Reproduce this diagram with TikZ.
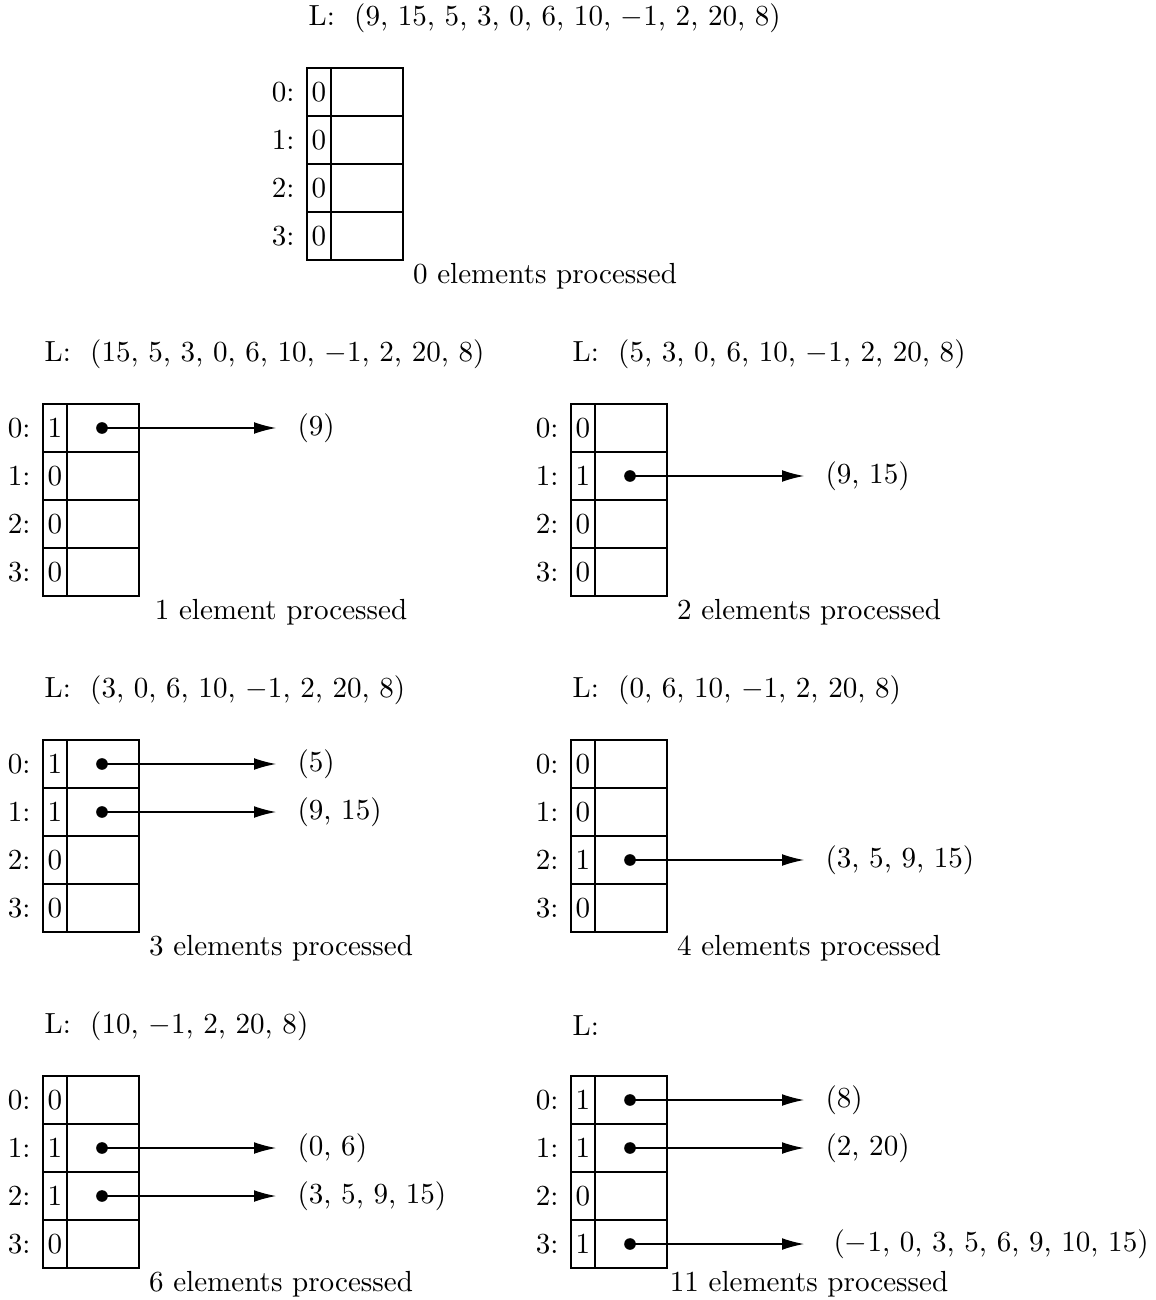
\documentclass[tikz,border=0pt]{standalone}
\usetikzlibrary{arrows.meta}
\newcommand\bucket[8]{%
\begin{scope}[shift={#2}]
\node[ltext] (#1L) at (1,-50) {L:\hspace{6.67pt}#7};
\node[cnum] (#1n0) at (0,0) {#3};
\node[cptr] (#1p0) at (24,0) {};
\node[cnum] (#1n1) at (0,48) {#4};
\node[cptr] (#1p1) at (24,48) {};
\node[cnum] (#1n2) at (0,96) {#5};
\node[cptr] (#1p2) at (24,96) {};
\node[cnum] (#1n3) at (0,144) {#6};
\node[cptr] (#1p3) at (24,144) {};
\node[idx] (#1i0) at (-12,24) {0:};
\node[idx] (#1i1) at (-12,72) {1:};
\node[idx] (#1i2) at (-12,120) {2:};
\node[idx] (#1i3) at (-12,168) {3:};
\node[proc] (#1P) at (238,208) {#8};
\end{scope}}
\newcommand\ptr[5]{%
\begin{scope}[shift={#2}]
\node[dotnode] (#1d#3) at (59,24+48*#3) {};
\coordinate (#1t#3) at (233,24+48*#3);
\node[ptxt] (#1s#3) at (#5,24+48*#3) {#4};
\draw[arr] (#1d#3.center) -- (#1t#3);
\end{scope}}
\begin{document}
\begin{tikzpicture}[x=0.012083cm,y=-0.012083cm,
  cnum/.style={draw, minimum width=24*0.012083cm, minimum height=48*0.012083cm, inner sep=0pt, outer sep=0pt, anchor=north west},
  cptr/.style={draw, minimum width=72*0.012083cm, minimum height=48*0.012083cm, inner sep=0pt, outer sep=0pt, anchor=north west},
  idx/.style={anchor=east, inner sep=0pt},
  ltext/.style={anchor=west, inner sep=0pt},
  proc/.style={inner sep=0pt},
  ptxt/.style={anchor=west, inner sep=0pt},
  dotnode/.style={circle, fill, inner sep=0pt, minimum size=4pt},
  arr/.style={-{Latex[length=7.5pt,width=4pt]}, line width=0.4pt}]
\useasboundingbox (0,0) rectangle (1155,1300);
\bucket{A}{(307,68)}{0}{0}{0}{0}{(9, 15, 5, 3, 0, 6, 10, $-1$, 2, 20, 8)}{0 elements processed}
\bucket{B}{(43,404)}{1}{0}{0}{0}{(15, 5, 3, 0, 6, 10, $-1$, 2, 20, 8)}{1 element processed}
\ptr{B}{(43,404)}{0}{(9)}{254}
\bucket{C}{(571,404)}{0}{1}{0}{0}{(5, 3, 0, 6, 10, $-1$, 2, 20, 8)}{2 elements processed}
\ptr{C}{(571,404)}{1}{(9, 15)}{254}
\bucket{D}{(43,740)}{1}{1}{0}{0}{(3, 0, 6, 10, $-1$, 2, 20, 8)}{3 elements processed}
\ptr{D}{(43,740)}{0}{(5)}{254}
\ptr{D}{(43,740)}{1}{(9, 15)}{254}
\bucket{E}{(571,740)}{0}{0}{1}{0}{(0, 6, 10, $-1$, 2, 20, 8)}{4 elements processed}
\ptr{E}{(571,740)}{2}{(3, 5, 9, 15)}{254}
\bucket{F}{(43,1076)}{0}{1}{1}{0}{(10, $-1$, 2, 20, 8)}{6 elements processed}
\ptr{F}{(43,1076)}{1}{(0, 6)}{254}
\ptr{F}{(43,1076)}{2}{(3, 5, 9, 15)}{254}
\bucket{G}{(571,1076)}{1}{1}{0}{1}{}{11 elements processed}
\ptr{G}{(571,1076)}{0}{(8)}{254}
\ptr{G}{(571,1076)}{1}{(2, 20)}{254}
\ptr{G}{(571,1076)}{3}{($-1$, 0, 3, 5, 6, 9, 10, 15)}{262}
\end{tikzpicture}
\end{document}
